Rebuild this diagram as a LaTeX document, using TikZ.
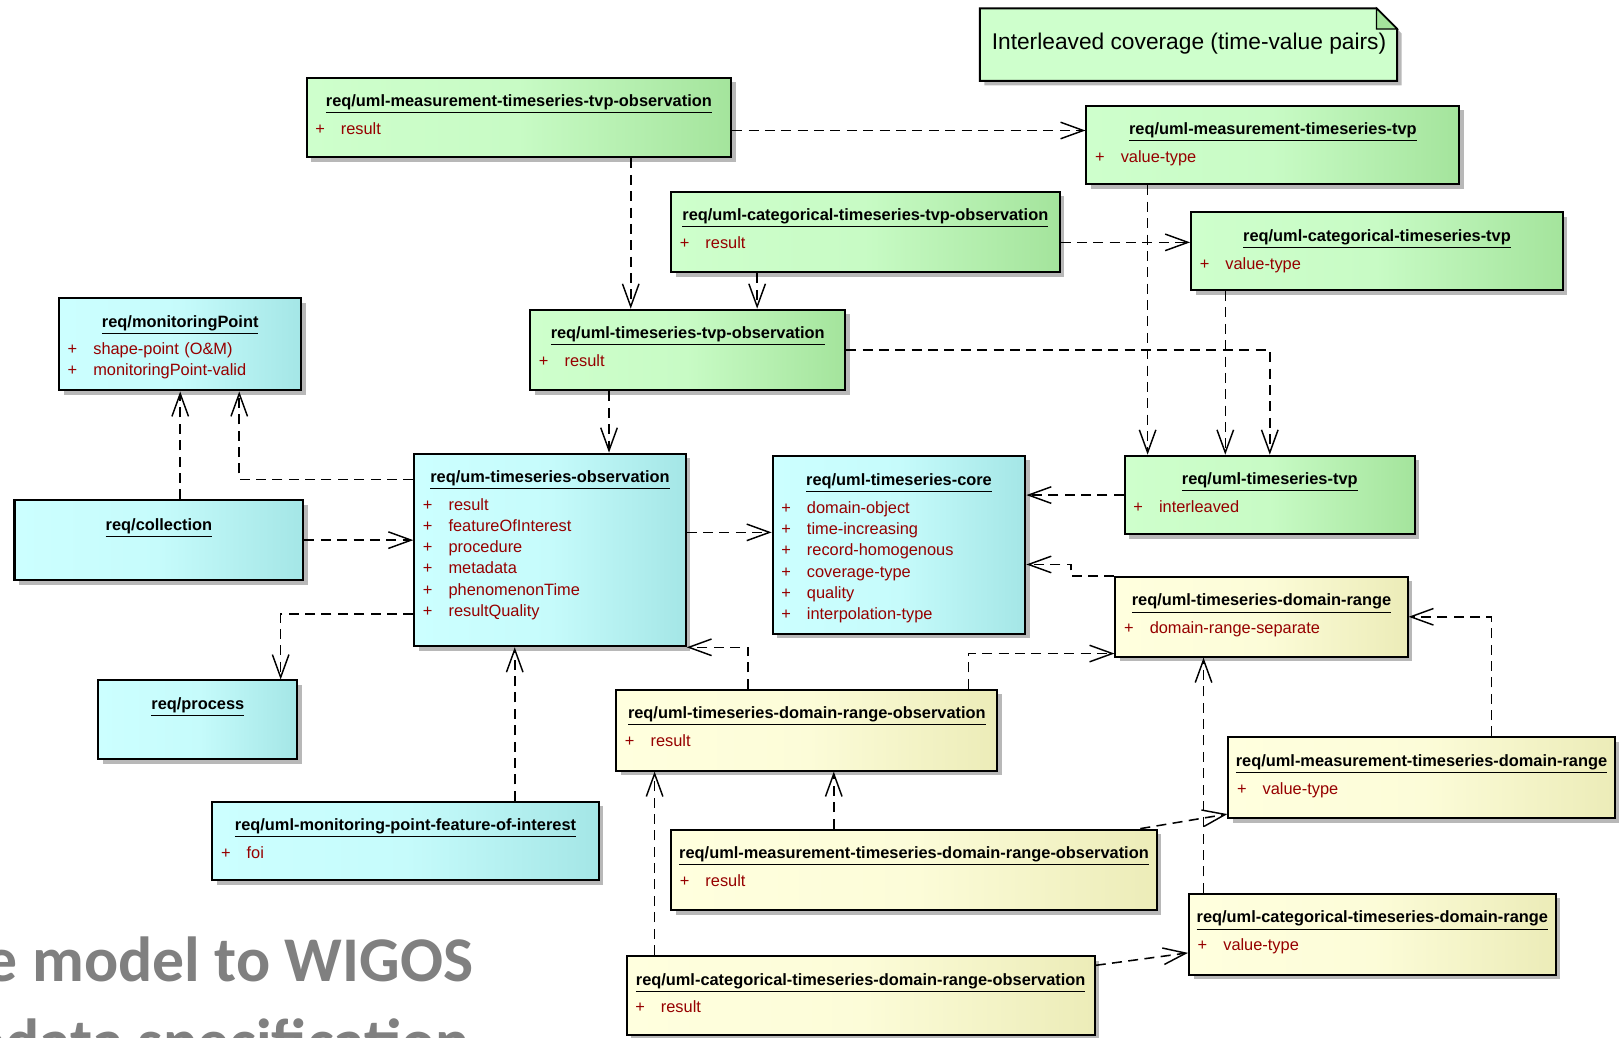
\documentclass[tikz,border=0pt]{standalone}
\usepackage{fontspec}
\setmainfont{Liberation Sans}
\newfontfamily\slidefont{Carlito}
\usetikzlibrary{arrows.meta,fit,shadows}
\definecolor{umlgreenA}{RGB}{206,255,204}
\definecolor{umlgreenB}{RGB}{164,228,156}
\definecolor{umlcyanA}{RGB}{204,255,255}
\definecolor{umlcyanB}{RGB}{164,230,230}
\definecolor{umlyellowA}{RGB}{255,255,222}
\definecolor{umlyellowB}{RGB}{236,236,184}
\definecolor{attrred}{RGB}{150,0,0}
\definecolor{slidegrey}{RGB}{128,128,128}
\newcommand\umlplus{+\hspace{0.31cm}}

\begin{document}
\begin{tikzpicture}[x=0.02cm,y=-0.02cm,
  umlbox/.style={draw=black,line width=1.1pt,inner sep=0pt,
    drop shadow={shadow xshift=2.5pt,shadow yshift=-2.5pt,fill=black!28,opacity=1}},
  greenbox/.style={umlbox,left color=umlgreenA,right color=umlgreenB,middle color=umlgreenA!85!umlgreenB},
  cyanbox/.style={umlbox,left color=umlcyanA,right color=umlcyanB,middle color=umlcyanA!85!umlcyanB},
  yellowbox/.style={umlbox,left color=umlyellowA,right color=umlyellowB,middle color=umlyellowA!85!umlyellowB},
  umltitle/.style={anchor=base,inner sep=0pt,font=\fontsize{9}{11.6}\selectfont\bfseries},
  umlattr/.style={anchor=base west,inner sep=0pt,text width=7cm,align=left,text=attrred,font=\fontsize{9}{11.6}\selectfont},
  slidetext/.style={anchor=base west,inner sep=0pt,text=slidegrey,font=\slidefont\bfseries\fontsize{35}{42}\selectfont},
  dep/.style={line width=0.85pt,dash pattern=on 5.5pt off 3.5pt,-{Straight Barb[length=0.44cm,width=0.32cm,line width=0.8pt]}}
]
\useasboundingbox (0,0) rectangle (1568,1002);

% note
\draw[line width=1.1pt,fill=umlgreenA,drop shadow={shadow xshift=2.5pt,shadow yshift=-2.5pt,fill=black!28,opacity=1}]
  (946,8) -- (1329,8) -- (1349,28) -- (1349,78) -- (946,78) -- cycle;
\draw[line width=0.8pt,fill=umlgreenB] (1329,8) -- (1329,28) -- (1349,28) -- cycle;
\node[anchor=base,inner sep=0pt,font=\fontsize{12.5}{15}\selectfont] (note) at (1148,48) {Interleaved coverage (time-value pairs)};

% tvp classes
\node[greenbox,fit={(296,75) (706,152)}] (mtvpobs) {};
\node[umltitle] (mtvpobs-t) at ([yshift=-0.58cm]mtvpobs.north) {\underline{req/uml-measurement-timeseries-tvp-observation}};
\node[umlattr] (mtvpobs-a) at ([xshift=0.18cm,yshift=-1.12cm]mtvpobs.north west) {\umlplus result};

\node[greenbox,fit={(1049,102) (1409,178)}] (mtvp) {};
\node[umltitle] (mtvp-t) at ([yshift=-0.58cm]mtvp.north) {\underline{req/uml-measurement-timeseries-tvp}};
\node[umlattr] (mtvp-a) at ([xshift=0.18cm,yshift=-1.12cm]mtvp.north west) {\umlplus value-type};

\node[greenbox,fit={(648,185) (1023,263)}] (ctvpobs) {};
\node[umltitle] (ctvpobs-t) at ([yshift=-0.58cm]ctvpobs.north) {\underline{req/uml-categorical-timeseries-tvp-observation}};
\node[umlattr] (ctvpobs-a) at ([xshift=0.18cm,yshift=-1.12cm]ctvpobs.north west) {\umlplus result};

\node[greenbox,fit={(1150,205) (1509,280)}] (ctvp) {};
\node[umltitle] (ctvp-t) at ([yshift=-0.58cm]ctvp.north) {\underline{req/uml-categorical-timeseries-tvp}};
\node[umlattr] (ctvp-a) at ([xshift=0.18cm,yshift=-1.12cm]ctvp.north west) {\umlplus value-type};

\node[greenbox,fit={(512,299) (816,377)}] (tvpobs) {};
\node[umltitle] (tvpobs-t) at ([yshift=-0.58cm]tvpobs.north) {\underline{req/uml-timeseries-tvp-observation}};
\node[umlattr] (tvpobs-a) at ([xshift=0.18cm,yshift=-1.12cm]tvpobs.north west) {\umlplus result};

\node[greenbox,fit={(1086,440) (1366,516)}] (tstvp) {};
\node[umltitle] (tstvp-t) at ([yshift=-0.58cm]tstvp.north) {\underline{req/uml-timeseries-tvp}};
\node[umlattr] (tstvp-a) at ([xshift=0.18cm,yshift=-1.12cm]tstvp.north west) {\umlplus interleaved};

% core classes
\node[cyanbox,fit={(57,288) (291,377)}] (mpoint) {};
\node[umltitle] (mpoint-t) at ([yshift=-0.58cm]mpoint.north) {\underline{req/monitoringPoint}};
\node[umlattr] (mpoint-a) at ([xshift=0.18cm,yshift=-1.1cm]mpoint.north west) {\umlplus shape-point (O\&M)\\\umlplus monitoringPoint-valid};

\node[cyanbox,fit={(400,438) (662,624)}] (tsobs) {};
\node[umltitle] (tsobs-t) at ([yshift=-0.58cm]tsobs.north) {\underline{req/um-timeseries-observation}};
\node[umlattr] (tsobs-a) at ([xshift=0.18cm,yshift=-1.12cm]tsobs.north west) {\umlplus result\\\umlplus featureOfInterest\\\umlplus procedure\\\umlplus metadata\\\umlplus phenomenonTime\\\umlplus resultQuality};

\node[cyanbox,fit={(14,483) (293,560)}] (coll) {};
\node[umltitle] (coll-t) at ([yshift=-0.6cm]coll.north) {\underline{req/collection}};

\node[cyanbox,fit={(746,440) (990,612)}] (core) {};
\node[umltitle] (core-t) at ([yshift=-0.6cm]core.north) {\underline{req/uml-timeseries-core}};
\node[umlattr] (core-a) at ([xshift=0.18cm,yshift=-1.14cm]core.north west) {\umlplus domain-object\\\umlplus time-increasing\\\umlplus record-homogenous\\\umlplus coverage-type\\\umlplus quality\\\umlplus interpolation-type};

\node[cyanbox,fit={(95,657) (287,733)}] (proc) {};
\node[umltitle] (proc-t) at ([yshift=-0.58cm]proc.north) {\underline{req/process}};

\node[cyanbox,fit={(205,774) (578,850)}] (foi) {};
\node[umltitle] (foi-t) at ([yshift=-0.58cm]foi.north) {\underline{req/uml-monitoring-point-feature-of-interest}};
\node[umlattr] (foi-a) at ([xshift=0.18cm,yshift=-1.12cm]foi.north west) {\umlplus foi};

% domain-range classes
\node[yellowbox,fit={(1077,557) (1359,634)}] (tsdr) {};
\node[umltitle] (tsdr-t) at ([yshift=-0.58cm]tsdr.north) {\underline{req/uml-timeseries-domain-range}};
\node[umlattr] (tsdr-a) at ([xshift=0.18cm,yshift=-1.12cm]tsdr.north west) {\umlplus domain-range-separate};

\node[yellowbox,fit={(595,666) (963,744)}] (tsdrobs) {};
\node[umltitle] (tsdrobs-t) at ([yshift=-0.58cm]tsdrobs.north) {\underline{req/uml-timeseries-domain-range-observation}};
\node[umlattr] (tsdrobs-a) at ([xshift=0.18cm,yshift=-1.12cm]tsdrobs.north west) {\umlplus result};

\node[yellowbox,fit={(1186,712) (1559,790)}] (mtsdr) {};
\node[umltitle] (mtsdr-t) at ([yshift=-0.58cm]mtsdr.north) {\underline{req/uml-measurement-timeseries-domain-range}};
\node[umlattr] (mtsdr-a) at ([xshift=0.18cm,yshift=-1.12cm]mtsdr.north west) {\umlplus value-type};

\node[yellowbox,fit={(648,801) (1117,879)}] (mtsdrobs) {};
\node[umltitle] (mtsdrobs-t) at ([yshift=-0.58cm]mtsdrobs.north) {\underline{req/uml-measurement-timeseries-domain-range-observation}};
\node[umlattr] (mtsdrobs-a) at ([xshift=0.18cm,yshift=-1.12cm]mtsdrobs.north west) {\umlplus result};

\node[yellowbox,fit={(1148,863) (1502,941)}] (ctsdr) {};
\node[umltitle] (ctsdr-t) at ([yshift=-0.58cm]ctsdr.north) {\underline{req/uml-categorical-timeseries-domain-range}};
\node[umlattr] (ctsdr-a) at ([xshift=0.18cm,yshift=-1.12cm]ctsdr.north west) {\umlplus value-type};

\node[yellowbox,fit={(605,923) (1057,999)}] (ctsdrobs) {};
\node[umltitle] (ctsdrobs-t) at ([yshift=-0.58cm]ctsdrobs.north) {\underline{req/uml-categorical-timeseries-domain-range-observation}};
\node[umlattr] (ctsdrobs-a) at ([xshift=0.18cm,yshift=-1.12cm]ctsdrobs.north west) {\umlplus result};

% slide title behind
\node[slidetext] (slide1) at (-14,948) {e model to WIGOS};
\node[slidetext] (slide2) at (-26,1027) {edata specification};

% dependencies
\coordinate (a1) at ([yshift=-0.25cm]mtvpobs.east);
\draw[dep] (a1) -- (a1 -| mtvp.west);
\coordinate (b1) at ([xshift=2.16cm]mtvpobs.south);
\draw[dep] (b1) -- (b1 |- tvpobs.north);
\coordinate (c1) at ([xshift=-2.09cm]ctvpobs.south);
\draw[dep] (c1) -- (c1 |- tvpobs.north);
\coordinate (d1) at ([yshift=-0.2cm]ctvpobs.east);
\draw[dep] (d1) -- (d1 -| ctvp.west);
\coordinate (e1) at ([xshift=-1.52cm]tvpobs.south);
\draw[dep] (e1) -- (e1 |- tsobs.north);
\coordinate (f1) at ([xshift=-2.42cm]mtvp.south);
\draw[dep] (f1) -- (f1 |- tstvp.north);
\coordinate (g1) at ([xshift=-2.93cm]ctvp.south);
\draw[dep] (g1) -- (g1 |- tstvp.north);
\draw[dep] (tvpobs.east) -| (tstvp.north);
\draw[dep] (mpoint.south |- coll.north) -- (mpoint.south);
\coordinate (j1) at ([yshift=1.36cm]tsobs.west);
\coordinate (j2) at ([xshift=1.14cm]mpoint.south);
\draw[dep] (j1) -| (j2);
\draw[dep] (coll.east) -- (coll.east -| tsobs.west);
\coordinate (l1) at ([yshift=-1.24cm]tsobs.west);
\coordinate (l2) at ([xshift=1.6cm]proc.north);
\draw[dep] (l1) -| (l2);
\coordinate (m1) at ([yshift=0.34cm]tsobs.east);
\draw[dep] (m1) -- (m1 -| core.west);
\draw[dep] (tstvp.west) -- (tstvp.west -| core.east);
\coordinate (o1) at ([yshift=-0.38cm]core.east);
\draw[dep] (tsdr.north west) -- ++(-42,0) |- (o1);
\coordinate (p1) at ([xshift=3.12cm]tsdrobs.north);
\coordinate (p2) at ([yshift=-0.71cm]tsdr.west);
\draw[dep] (p1) |- (p2);
\coordinate (q1) at ([xshift=-1.14cm]tsdrobs.north);
\draw[dep] (q1) |- (tsobs.south east);
\coordinate (r1) at ([xshift=1.35cm]mtsdr.north);
\draw[dep] (r1) |- (tsdr.east);
\coordinate (s1) at ([xshift=-3.26cm]ctsdr.north);
\draw[dep] (s1) -- (s1 |- tsdr.south);
\coordinate (t1) at ([xshift=-1.55cm]mtsdrobs.north);
\draw[dep] (t1) -- (t1 |- tsdrobs.south);
\coordinate (u1) at ([xshift=-0.34cm]mtsdrobs.north east);
\coordinate (u2) at ([yshift=-0.7cm]mtsdr.west);
\draw[dep] (u1) -- (u2);
\coordinate (v1) at ([xshift=-3.98cm]ctsdrobs.north);
\draw[dep] (v1) -- (v1 |- tsdrobs.south);
\coordinate (w1) at ([yshift=0.58cm]ctsdrobs.east);
\coordinate (w2) at ([yshift=-0.36cm]ctsdr.west);
\draw[dep] (w1) -- (w2);
\coordinate (x1) at ([xshift=2.11cm]foi.north);
\draw[dep] (x1) -- (x1 |- tsobs.south);
\end{tikzpicture}
\end{document}
